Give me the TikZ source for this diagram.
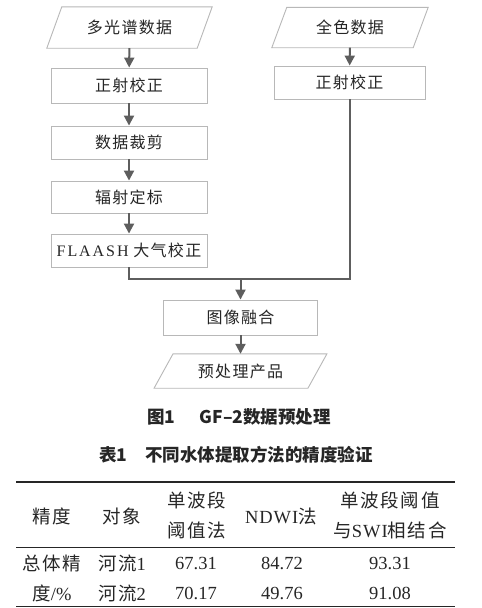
\documentclass[tikz,border=0pt]{standalone}
\usepackage{fontspec}
\setmainfont{Liberation Serif}
\newfontfamily\cjk[LetterSpace=8]{Noto Sans CJK SC}
\newfontfamily\cjkt{Noto Sans CJK SC}
\newfontfamily\cjkc[LetterSpace=9]{Noto Sans CJK SC}
\usetikzlibrary{arrows.meta}
\definecolor{boxc}{HTML}{B8B8B8}
\definecolor{arrc}{HTML}{5E5E5E}
\definecolor{txtc}{HTML}{262626}
\tikzset{
  stepbox/.style={draw=boxc, line width=0.9pt, fill=white, inner sep=0pt, text=txtc,
    font=\fontsize{16}{18}\selectfont\cjk},
  databox/.style={draw=none, inner sep=0pt, text=txtc, font=\fontsize{16}{18}\selectfont\cjk},
  para/.style={draw=boxc, line width=0.9pt},
  conn/.style={draw=arrc, line width=2pt},
  arr/.style={conn, -{Triangle[length=10pt,width=10pt]}},
  captext/.style={text=txtc, font=\fontsize{17.5}{19}\selectfont\cjkt\bfseries, inner sep=0pt},
  cell/.style={text=txtc, font=\fontsize{18.5}{20}\selectfont\cjkc, inner sep=0pt, align=center},
  num/.style={text=txtc, font=\fontsize{18.5}{20}\selectfont\rmfamily, inner sep=0pt},
}
\newcommand{\parabox}[2]{% node name, slant
  \draw[para] ([xshift=-#2]#1.south west) -- ([xshift=#2]#1.north west)
    -- ([xshift=#2]#1.north east) -- ([xshift=-#2]#1.south east) -- cycle;}
\begin{document}
\begin{tikzpicture}[x=1pt,y=-1pt]
\useasboundingbox[fill=white] (0,0) rectangle (482,608);
% left column
\node[databox, minimum width=150pt, minimum height=41pt] (ms) at (129.5,27.5) {多光谱数据};
\parabox{ms}{7.5pt}
\node[stepbox, minimum width=156pt, minimum height=35pt] (or1) at (129,85.5) {正射校正};
\node[stepbox, minimum width=156pt, minimum height=33pt] (crop) at (129,142.5) {数据裁剪};
\node[stepbox, minimum width=156pt, minimum height=32pt] (cal) at (129,197) {辐射定标};
\node[stepbox, minimum width=156pt, minimum height=33pt] (fl) at (129,250.5) {{\rmfamily\addfontfeature{LetterSpace=12}FLAASH} 大气校正};
% right column
\node[databox, minimum width=141pt, minimum height=40pt] (pan) at (350,27.5) {全色数据};
\parabox{pan}{7.5pt}
\node[stepbox, minimum width=151pt, minimum height=33pt] (or2) at (349.5,82.5) {正射校正};
% merge
\coordinate (j) at (240.5,279);
\node[stepbox, minimum width=154pt, minimum height=35pt] (fuse) at (240.5,317.5) {图像融合};
\node[databox, minimum width=153.5pt, minimum height=34pt] (prod) at (240.5,371) {预处理产品};
\parabox{prod}{9.5pt}
% connectors
\draw[arr] (ms) -- (or1);
\draw[arr] (or1) -- (crop);
\draw[arr] (crop) -- (cal);
\draw[arr] (cal) -- (fl);
\draw[arr] (pan) -- (or2);
\draw[conn] (fl.south) |- (j);
\draw[conn] (or2.south) |- (j);
\draw[arr] (j) -- (fuse);
\draw[arr] (fuse) -- (prod);
% captions
\node[captext] (fcap) at (239,417) {图1\hspace{1.4em}GF–2数据预处理};
\node[captext] (tcap) at (236,455) {表1\hspace{1em}不同水体提取方法的精度验证};
% table
\draw[draw=txtc, line width=1.3pt] (16,482) -- (455,482);
\draw[draw=txtc, line width=0.8pt] (16,547) -- (455,547);
\draw[draw=txtc, line width=1.3pt] (16,606.8) -- (455,606.8);
\node[cell] (h1) at (52,516) {精度};
\node[cell] (h2) at (122,516) {对象};
\node[cell] (h3a) at (197,500) {单波段};
\node[cell] (h3b) at (197,530) {阈值法};
\node[cell] (h4) at (281,516) {{\rmfamily\addfontfeature{LetterSpace=5}NDWI}法};
\node[cell] (h5a) at (390,500) {单波段阈值};
\node[cell] (h5b) at (390,530) {与{\rmfamily\addfontfeature{LetterSpace=5}SWI}相结合};
\node[cell] (r1a) at (52,563) {总体精};
\node[cell] (r2a) at (52,593) {度{\rmfamily /\%}};
\node[cell] (r1b) at (122,563) {河流{\rmfamily 1}};
\node[cell] (r2b) at (122,593) {河流{\rmfamily 2}};
\node[num] (v11) at (196,563) {67.31};
\node[num] (v12) at (282,563) {84.72};
\node[num] (v13) at (390,563) {93.31};
\node[num] (v21) at (196,593) {70.17};
\node[num] (v22) at (282,593) {49.76};
\node[num] (v23) at (390,593) {91.08};
\end{tikzpicture}
\end{document}
